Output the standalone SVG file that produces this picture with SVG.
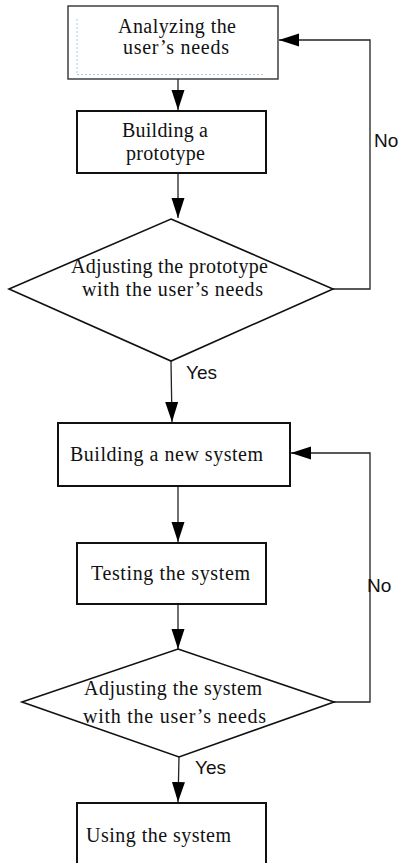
<svg xmlns="http://www.w3.org/2000/svg" width="401" height="863" viewBox="0 0 401 863">
  <style>
    .box { fill: #ffffff; stroke: #111111; stroke-width: 2; }
    .box-light { fill: #ffffff; stroke: #333333; stroke-width: 1.4; }
    .decision { fill: #ffffff; stroke: #111111; stroke-width: 1.6; }
    .label { font-family: "Liberation Serif", "Times New Roman", serif; font-size: 20px; fill: #111111; }
    .branch { font-family: "Liberation Sans", Arial, sans-serif; font-size: 19px; fill: #111111; }
    .edge { fill: none; stroke: #222222; stroke-width: 1.3; }
    .guide { fill: none; stroke: #a9c8e8; stroke-width: 1; stroke-dasharray: 2 2; }
  </style>
  <defs>
    <marker id="arrow" markerUnits="userSpaceOnUse" markerWidth="21" markerHeight="14" refX="20" refY="6.5" orient="auto">
      <path d="M0,0 L20,6.5 L0,13 Z" fill="#000000"/>
    </marker>
  </defs>
  <rect width="401" height="863" fill="#ffffff"/>

  <g id="connectors">
    <line class="edge" x1="178" y1="79" x2="178" y2="110" marker-end="url(#arrow)"/>
    <line class="edge" x1="178" y1="173" x2="178" y2="218" marker-end="url(#arrow)"/>
    <line class="edge" x1="171" y1="361" x2="172" y2="422" marker-end="url(#arrow)"/>
    <line class="edge" x1="178" y1="486" x2="178" y2="542" marker-end="url(#arrow)"/>
    <line class="edge" x1="178" y1="604" x2="178" y2="649" marker-end="url(#arrow)"/>
    <line class="edge" x1="179" y1="757" x2="178" y2="802" marker-end="url(#arrow)"/>
    <polyline class="edge" points="333,289 370,289 370,40 279,40" marker-end="url(#arrow)"/>
    <polyline class="edge" points="334,702 370,702 370,453 291,453" marker-end="url(#arrow)"/>
    <text class="branch" x="374" y="147">No</text>
    <text class="branch" x="186" y="379">Yes</text>
    <text class="branch" x="367" y="592">No</text>
    <text class="branch" x="195" y="774">Yes</text>
  </g>

  <g id="analyze-needs">
    <rect class="box-light" x="68" y="6" width="210" height="73"/>
    <path class="guide" d="M77,19 V73 M77,74.5 H265"/>
    <text class="label" x="118" y="32.5" textLength="118" lengthAdjust="spacing">Analyzing the</text>
    <text class="label" x="123" y="53.5" textLength="106" lengthAdjust="spacing">user’s needs</text>
  </g>

  <g id="build-prototype">
    <rect class="box" x="77" y="111" width="189" height="62"/>
    <text class="label" x="122" y="137" textLength="86" lengthAdjust="spacing">Building a</text>
    <text class="label" x="126" y="160" textLength="79" lengthAdjust="spacing">prototype</text>
  </g>

  <g id="check-prototype">
    <polygon class="decision" points="171,219 333,289 171,361 9,289"/>
    <text class="label" x="71" y="273" textLength="197" lengthAdjust="spacing">Adjusting the prototype</text>
    <text class="label" x="82" y="296" textLength="181" lengthAdjust="spacing">with the user’s needs</text>
  </g>

  <g id="build-system">
    <rect class="box" x="58" y="423" width="232" height="63"/>
    <text class="label" x="70" y="461" textLength="193" lengthAdjust="spacing">Building a new system</text>
  </g>

  <g id="test-system">
    <rect class="box" x="77" y="543" width="189" height="61"/>
    <text class="label" x="91" y="580" textLength="159" lengthAdjust="spacing">Testing the system</text>
  </g>

  <g id="check-system">
    <polygon class="decision" points="178,649 334,702 179,757 22,702"/>
    <text class="label" x="84" y="695" textLength="178" lengthAdjust="spacing">Adjusting the system</text>
    <text class="label" x="83" y="723" textLength="183" lengthAdjust="spacing">with the user’s needs</text>
  </g>

  <g id="use-system">
    <rect class="box" x="77" y="803" width="189" height="80"/>
    <text class="label" x="86" y="842" textLength="145" lengthAdjust="spacing">Using the system</text>
  </g>
</svg>
